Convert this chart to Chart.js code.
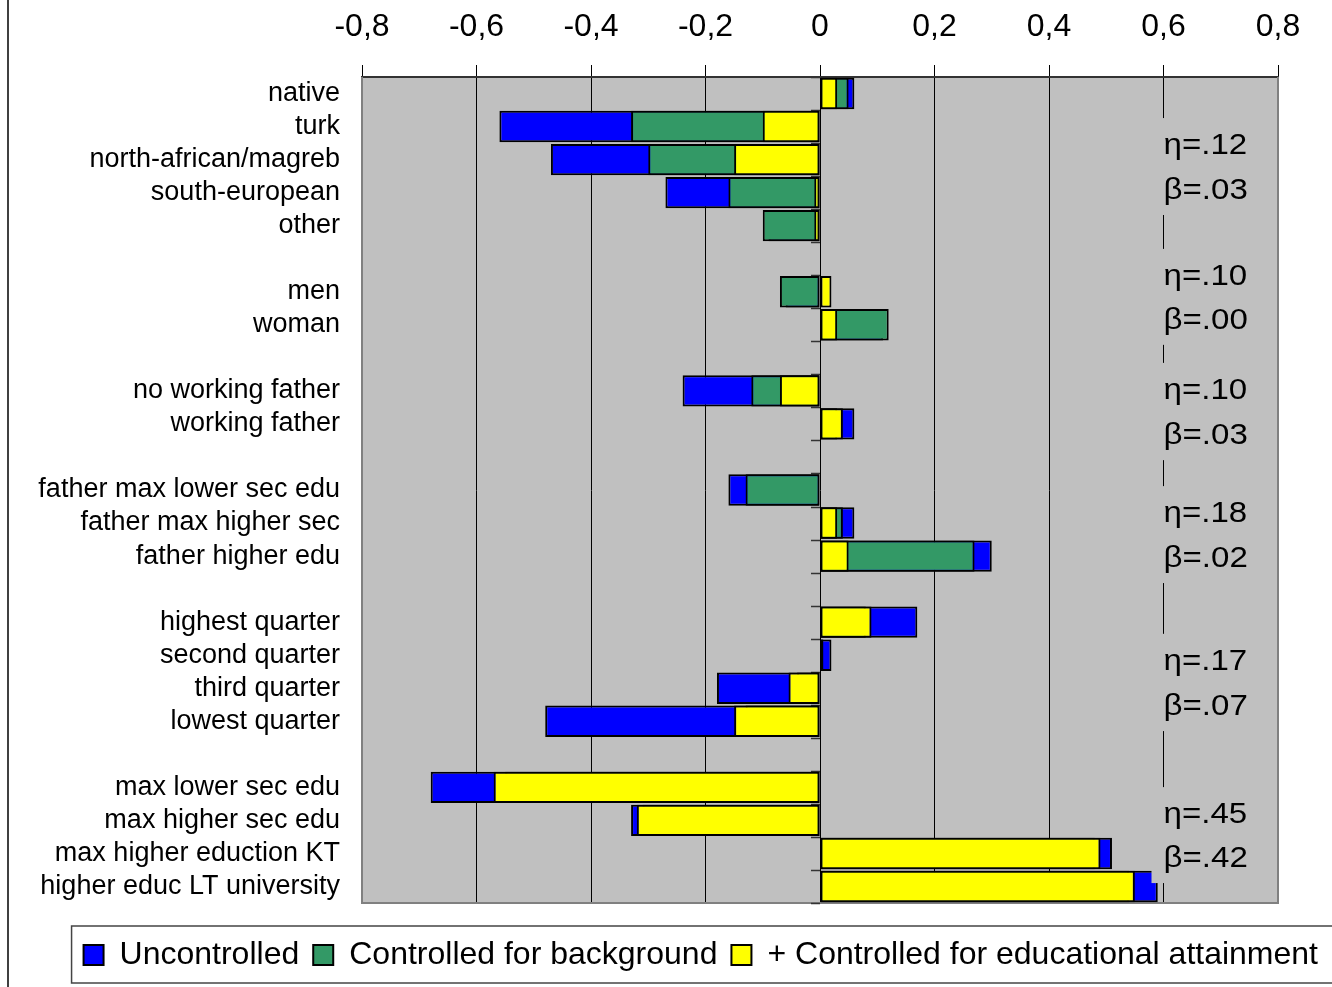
<!DOCTYPE html>
<html>
<head>
<meta charset="utf-8">
<title>Effects by background</title>
<script src="https://cdn.jsdelivr.net/npm/chart.js@4.4.1/dist/chart.umd.min.js"></script>
<style>
  body { margin: 0; background: #fff; }
  #myChart { display: block; }
</style>
</head>
<body>
<canvas id="myChart" width="1332" height="987"></canvas>
<script>
// Rows of the chart (empty strings are the gaps between groups)
const categories = [
    'native', 'turk', 'north-african/magreb', 'south-european', 'other', '',
    'men', 'woman', '',
    'no working father', 'working father', '',
    'father max lower sec edu', 'father max higher sec', 'father higher edu', '',
    'highest quarter', 'second quarter', 'third quarter', 'lowest quarter', '',
    'max lower sec edu', 'max higher sec edu', 'max higher eduction KT', 'higher educ LT university'
];

// Series values
const uncontrolled = [
    0.06, -0.56, -0.47, -0.27, -0.09, null,
    -0.06, 0.11, null,
    -0.24, 0.06, null,
    -0.16, 0.06, 0.30, null,
    0.17, 0.02, -0.18, -0.48, null,
    -0.68, -0.33, 0.51, 0.59
];
const controlledBackground = [
    0.05, -0.33, -0.30, -0.16, -0.10, null,
    -0.07, 0.12, null,
    -0.12, 0.03, null,
    -0.13, 0.04, 0.27, null,
    0.08, 0.005, -0.04, -0.13, null,
    -0.55, -0.31, 0.48, 0.54
];
const controlledEducation = [
    0.03, -0.10, -0.15, -0.01, -0.01, null,
    0.02, 0.03, null,
    -0.07, 0.04, null,
    0, 0.03, 0.05, null,
    0.09, 0.006, -0.055, -0.15, null,
    -0.57, -0.32, 0.49, 0.55
];

// Axis tick labels (decimal comma)
const xTickLabels = ['-0,8', '-0,6', '-0,4', '-0,2', '0', '0,2', '0,4', '0,6', '0,8'];

// Statistics printed at the right of each group
const etaLabels = ['η=.12', 'η=.10', 'η=.10', 'η=.18', 'η=.17', 'η=.45'];
const betaLabels = ['β=.03', 'β=.00', 'β=.03', 'β=.02', 'β=.07', 'β=.42'];

const FONT = "'Liberation Sans', Arial, sans-serif";

// Backdrop, frame, zero-axis ticks, stat boxes and legend frame
const decorPlugin = {
    id: 'decor',
    // where the eta / beta lines sit, in row units of the y scale
    statRows: [[1.59, 2.95], [5.55, 6.88], [9.0, 10.37], [12.73, 14.09], [17.2, 18.57], [21.84, 23.17]],

    beforeDraw(chart) {
        const { ctx, chartArea: a } = chart;
        ctx.save();
        ctx.fillStyle = '#ffffff';
        ctx.fillRect(0, 0, chart.width, chart.height);
        ctx.fillStyle = '#c0c0c0';
        ctx.fillRect(a.left, a.top, a.right - a.left, a.bottom - a.top);
        // left edge of the slide
        ctx.strokeStyle = '#000';
        ctx.lineWidth = 1.5;
        ctx.beginPath();
        ctx.moveTo(8, 0);
        ctx.lineTo(8, chart.height);
        ctx.stroke();
        ctx.restore();
    },

    beforeDatasetsDraw(chart) {
        const { ctx, chartArea: a } = chart;
        ctx.save();
        // gray frame of the plot area
        ctx.strokeStyle = '#808080';
        ctx.lineWidth = 2;
        ctx.beginPath();
        ctx.moveTo(a.left, a.top);
        ctx.lineTo(a.left, a.bottom);
        ctx.lineTo(a.right, a.bottom);
        ctx.lineTo(a.right, a.top);
        ctx.stroke();

        // small tick marks on the zero axis at every row boundary
        const x0 = chart.scales.x.getPixelForValue(0);
        const step = (a.bottom - a.top) / categories.length;
        ctx.strokeStyle = '#333';
        ctx.lineWidth = 1.5;
        for (let i = 0; i <= categories.length; i++) {
            const py = Math.round(a.top + i * step) + 0.5;
            ctx.beginPath();
            ctx.moveTo(x0 - 9, py);
            ctx.lineTo(x0, py);
            ctx.stroke();
        }
        ctx.restore();
    },

    afterDatasetsDraw(chart) {
        const { ctx } = chart;
        const xs = chart.scales.x;
        const ys = chart.scales.y;
        const tx = xs.getPixelForValue(0.6);
        ctx.save();
        this.statRows.forEach((rows, g) => {
            const yEta = ys.getPixelForValue(rows[0]);
            const yBeta = ys.getPixelForValue(rows[1]);
            // gray box hides the 0,6 grid line behind the text
            ctx.fillStyle = '#c0c0c0';
            ctx.fillRect(tx - 12, yEta - 28, 105, (yBeta + 24) - (yEta - 28));

            ctx.fillStyle = '#000';
            ctx.font = '29px ' + FONT;
            ctx.textAlign = 'left';
            ctx.textBaseline = 'middle';
            [[etaLabels[g], yEta], [betaLabels[g], yBeta]].forEach(([txt, py]) => {
                ctx.save();
                ctx.translate(tx, py);
                ctx.scale(1.14, 1);
                ctx.fillText(txt, 0, 0);
                ctx.restore();
            });
        });
        ctx.restore();
    },

    afterDraw(chart) {
        const { ctx } = chart;
        const lg = chart.legend;
        const left = lg.legendHitBoxes[0].left - 12;
        ctx.save();
        ctx.strokeStyle = '#444';
        ctx.lineWidth = 1.5;
        ctx.strokeRect(left, lg.top + 1, chart.width + 10 - left, 57);
        ctx.restore();
    }
};

function barSet(label, data, color, order) {
    return {
        label: label,
        data: data,
        backgroundColor: color,
        borderColor: '#000000',
        borderWidth: 2,
        borderSkipped: false,
        grouped: false,
        categoryPercentage: 1,
        barPercentage: 0.95,
        order: order
    };
}

function createChart() {
    const ctx = document.getElementById('myChart').getContext('2d');
    new Chart(ctx, {
        type: 'bar',
        data: {
            labels: categories,
            datasets: [
                barSet('Uncontrolled', uncontrolled, '#0000ff', 3),
                barSet('Controlled for background', controlledBackground, '#339966', 2),
                barSet('+ Controlled for educational attainment', controlledEducation, '#ffff00', 1)
            ]
        },
        options: {
            indexAxis: 'y',
            responsive: false,
            animation: false,
            devicePixelRatio: 1,
            layout: { padding: { left: 0, right: 0, top: 0, bottom: 6 } },
            scales: {
                x: {
                    type: 'linear',
                    position: 'top',
                    min: -0.8,
                    max: 0.8,
                    afterFit: (scale) => { scale.height = 77; },
                    afterBuildTicks: (scale) => {
                        scale.ticks = xTickLabels.map((t, i) => ({ value: -0.8 + i * 0.2 }));
                    },
                    ticks: {
                        callback: (value, index) => xTickLabels[index],
                        color: '#000',
                        font: { family: FONT, size: 32 },
                        padding: 19,
                        maxRotation: 0
                    },
                    grid: { color: '#000', lineWidth: 1, tickLength: 12 },
                    border: { display: true, color: '#333', width: 2 }
                },
                x2: {
                    type: 'linear',
                    position: 'bottom',
                    afterFit: (scale) => { scale.height = 22; },
                    ticks: { display: false },
                    grid: { display: false, drawTicks: false },
                    border: { display: false }
                },
                y: {
                    type: 'category',
                    position: 'left',
                    afterFit: (scale) => { scale.width = 362; },
                    ticks: {
                        autoSkip: false,
                        color: '#000',
                        font: { family: FONT, size: 27 },
                        padding: 22
                    },
                    grid: { display: false, drawTicks: false },
                    border: { display: false }
                },
                y2: {
                    type: 'linear',
                    position: 'right',
                    afterFit: (scale) => { scale.width = 54; },
                    ticks: { display: false },
                    grid: { display: false, drawTicks: false },
                    border: { display: false }
                }
            },
            plugins: {
                tooltip: { enabled: false },
                legend: {
                    position: 'bottom',
                    align: 'end',
                    labels: {
                        boxWidth: 20,
                        boxHeight: 20,
                        padding: 14,
                        color: '#000',
                        font: { family: FONT, size: 32 },
                        sort: (a, b) => a.datasetIndex - b.datasetIndex
                    }
                }
            }
        },
        plugins: [decorPlugin]
    });
}

createChart();
</script>
</body>
</html>
